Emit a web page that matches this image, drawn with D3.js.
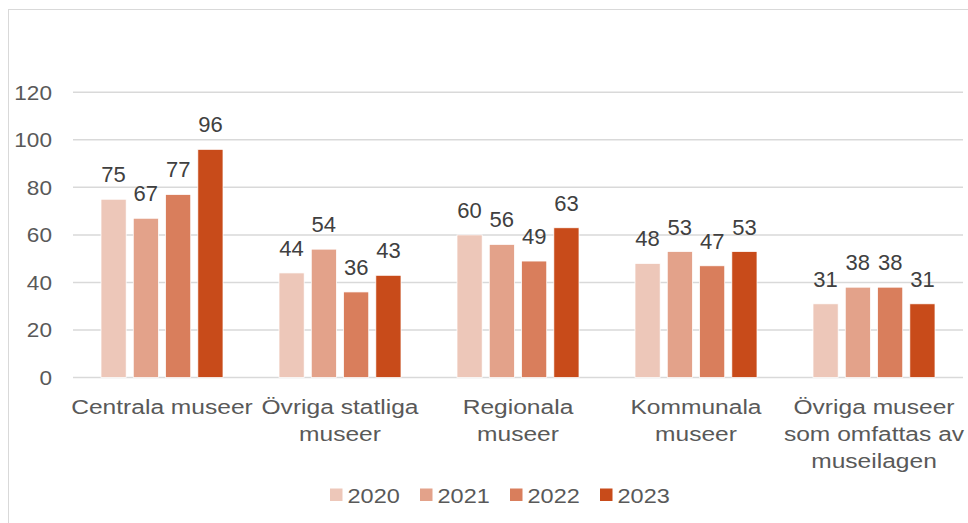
<!DOCTYPE html>
<html>
<head>
<meta charset="utf-8">
<script src="https://cdn.jsdelivr.net/npm/d3@7"></script>
<style>
  html, body { margin: 0; padding: 0; background: #ffffff; }
  svg { display: block; }
  text { font-family: Arial, "Liberation Sans", sans-serif; }
</style>
</head>
<body>
<div id="chart"></div>
<script>
// ---- Data ----
const categories = ["Centrala museer", "Övriga statliga museer", "Regionala museer", "Kommunala museer", "Övriga museer som omfattas av museilagen"];
const categoryLines = [
  ["Centrala museer"],
  ["Övriga statliga", "museer"],
  ["Regionala", "museer"],
  ["Kommunala", "museer"],
  ["Övriga museer", "som omfattas av", "museilagen"]
];
const years = ["2020", "2021", "2022", "2023"];
const values2020 = [75, 44, 60, 48, 31];
const values2021 = [67, 54, 56, 53, 38];
const values2022 = [77, 36, 49, 47, 38];
const values2023 = [96, 43, 63, 53, 31];
const yTicks = [0, 20, 40, 60, 80, 100, 120];
const colors = ["#EDC7B9", "#E3A28A", "#D97E5C", "#C84B1A"];

const seriesValues = [values2020, values2021, values2022, values2023];

// ---- Layout ----
const W = 968, H = 523;
const plotLeft = 73, plotRight = 963, yTop = 92.3, yBottom = 377.5;

const svg = d3.select("#chart").append("svg")
  .attr("width", W).attr("height", H);

// outer chart border
svg.append("rect")
  .attr("x", 8.5).attr("y", 9.5)
  .attr("width", W + 20).attr("height", H + 20)
  .attr("fill", "none").attr("stroke", "#d9d9d9").attr("stroke-width", 1);

const y = d3.scaleLinear().domain([0, 120]).range([yBottom, yTop]);
const x0 = d3.scaleBand().domain(categories).range([plotLeft, plotRight]).padding(0);
const x1 = d3.scaleBand().domain(years).range([28, 150]).paddingInner(0.22).paddingOuter(0);

// gridlines
svg.append("g").selectAll("line")
  .data(yTicks)
  .join("line")
  .attr("x1", plotLeft).attr("x2", plotRight)
  .attr("y1", d => y(d)).attr("y2", d => y(d))
  .attr("stroke", "#d9d9d9").attr("stroke-width", 1.5);

// y tick labels
svg.append("g").selectAll("text")
  .data(yTicks)
  .join("text")
  .attr("transform", d => `translate(52,${y(d) + 7.2}) scale(1.13,1)`)
  .attr("text-anchor", "end")
  .attr("font-size", 20)
  .attr("fill", "#595959")
  .text(d => d);

// bars
const groups = svg.append("g").selectAll("g")
  .data(categories)
  .join("g")
  .attr("transform", d => `translate(${x0(d)},0)`);

groups.each(function(cat, ci) {
  const g = d3.select(this);
  years.forEach((yr, si) => {
    const v = seriesValues[si][ci];
    g.append("rect")
      .attr("x", x1(yr))
      .attr("y", y(v))
      .attr("width", x1.bandwidth())
      .attr("height", y(0) - y(v))
      .attr("fill", colors[si])
      .attr("stroke", "#ffffff")
      .attr("stroke-width", 0.75);
    g.append("text")
      .attr("x", x1(yr) + x1.bandwidth() / 2)
      .attr("y", y(v) - 17)
      .attr("text-anchor", "middle")
      .attr("font-size", 22)
      .attr("fill", "#404040")
      .text(v);
  });
});

// category labels
categories.forEach((cat, ci) => {
  const cx = x0(cat) + x0.bandwidth() / 2;
  categoryLines[ci].forEach((line, li) => {
    svg.append("text")
      .attr("transform", `translate(${cx},${414 + li * 27}) scale(1.17,1)`)
      .attr("text-anchor", "middle")
      .attr("font-size", 21)
      .attr("fill", "#595959")
      .text(line);
  });
});

// legend
const legendX0 = 330, legendStep = 90;
const legend = svg.append("g").selectAll("g")
  .data(years)
  .join("g")
  .attr("transform", (d, i) => `translate(${legendX0 + i * legendStep},0)`);
legend.append("rect")
  .attr("x", 0).attr("y", 488.5)
  .attr("width", 12.5).attr("height", 12.5)
  .attr("fill", (d, i) => colors[i]);
legend.append("text")
  .attr("transform", `translate(17.5,502.5) scale(1.12,1)`)
  .attr("font-size", 21)
  .attr("fill", "#595959")
  .text(d => d);
</script>
</body>
</html>
